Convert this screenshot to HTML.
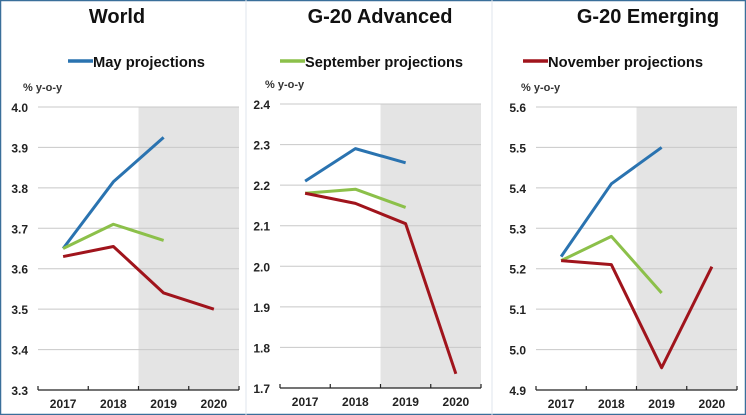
<!DOCTYPE html>
<html><head><meta charset="utf-8"><style>
html,body{margin:0;padding:0;background:#fff}
svg{display:block;font-family:"Liberation Sans",Arial,sans-serif}
</style></head><body>
<svg id="c" width="746" height="415" viewBox="0 0 746 415" xmlns="http://www.w3.org/2000/svg">
<rect x="0.5" y="0.5" width="745" height="414" fill="#fff" stroke="#3a6f9a" stroke-width="1.5"/>
<line x1="246" y1="0" x2="246" y2="415" stroke="#dfe6ec"/>
<line x1="492" y1="0" x2="492" y2="415" stroke="#dfe6ec"/>
</svg>
<script>
const categories = ["2017","2018","2019","2020"];
const panelTitles = ["World","G-20 Advanced","G-20 Emerging"];
const legendLabels = ["May projections","September projections","November projections"];
const yMins = [3.3,1.7,4.9];
const yMaxs = [4.0,2.4,5.6];
const worldMay = [3.65,3.815,3.925,null];
const worldSep = [3.65,3.71,3.67,null];
const worldNov = [3.63,3.655,3.54,3.50];
const advMay = [2.21,2.29,2.255,null];
const advSep = [2.18,2.19,2.145,null];
const advNov = [2.18,2.155,2.105,1.735];
const emMay = [5.23,5.41,5.50,null];
const emSep = [5.22,5.28,5.14,null];
const emNov = [5.22,5.21,4.955,5.205];

const svg=document.getElementById('c');
const NS="http://www.w3.org/2000/svg";
function mk(t,a,p){const e=document.createElementNS(NS,t);for(const k in a)e.setAttribute(k,a[k]);(p||svg).appendChild(e);return e;}
const colors=["#2a73b0","#8cc04a","#a0141c"];
const panels=[
 {l:38,r:239,t:107,b:390,titleX:117,series:[worldMay,worldSep,worldNov],key:"world"},
 {l:280,r:481,t:104,b:388,titleX:380,series:[advMay,advSep,advNov],key:"advanced"},
 {l:536,r:737,t:107,b:390,titleX:648,series:[emMay,emSep,emNov],key:"emerging"}
];
const legendX=[68,280,523];
const legendW=[112,158,155];
panels.forEach((p,i)=>{
 const g=mk('g',{});
 
 
 const yMin=yMins[i],yMax=yMaxs[i];
 const y=v=>p.b-(v-yMin)/(yMax-yMin)*(p.b-p.t);
 const bw=(p.r-p.l)/categories.length;
 const x=k=>p.l+bw*(k+0.5);
 const sh=mk('rect',{x:p.l+bw*2,y:p.t,width:bw*2,height:p.b-p.t,fill:"#e4e4e4"},g);
 
 
 const steps=Math.round((yMax-yMin)/0.1);
 for(let s=0;s<=steps;s++){
  const v=yMin+s*0.1,yy=y(v);
  if(s>0){const gl=mk('line',{x1:p.l,x2:p.r,y1:yy,y2:yy,stroke:"#c8c8c8","stroke-width":1},g);
   
   }
  const tl=mk('text',{x:p.l-10,y:yy+5,"text-anchor":"end","font-size":12,"font-weight":"bold",fill:"#222"},g);
  tl.textContent=v.toFixed(1);
  
  
 }
 const ax=mk('line',{x1:p.l,x2:p.r,y1:p.b,y2:p.b,stroke:"#222","stroke-width":1.2},g);
 
 
 for(let k=0;k<=categories.length;k++){
  mk('line',{x1:p.l+bw*k,x2:p.l+bw*k,y1:p.b-4,y2:p.b,stroke:"#222","stroke-width":1.2},g);
 }
 categories.forEach((c,k)=>{
  const t=mk('text',{x:x(k),y:p.b+18,"text-anchor":"middle","font-size":12,"font-weight":"bold",fill:"#222"},g);
  t.textContent=c;
  
  
 });
 const yl=mk('text',{x:p.l-15,y:p.t-16,"font-size":11,"font-weight":"bold",fill:"#333"},g);
 yl.textContent="% y-o-y";
 
 
 p.series.forEach((arr,si)=>{
  let d="";
  arr.forEach((v,k)=>{if(v!==null)d+=(d?"L":"M")+x(k)+","+y(v);});
  const pl=mk('path',{d:d,fill:"none",stroke:colors[si],"stroke-width":3,"stroke-linejoin":"round"},g);
  
  
 });
 const tt=mk('text',{x:p.titleX,y:23,"text-anchor":"middle","font-size":20,"font-weight":"bold",fill:"#111"},g);
 tt.textContent=panelTitles[i];
 
 
 const lx=legendX[i];
 const ll=mk('line',{x1:lx,x2:lx+25,y1:61,y2:61,stroke:colors[i],"stroke-width":3.5},g);
 
 
 const lt=mk('text',{x:lx+25,y:67,"font-size":15,"font-weight":"bold",fill:"#111",textLength:legendW[i],lengthAdjust:"spacingAndGlyphs"},g);
 lt.textContent=legendLabels[i];
 
 
});
</script>
</body></html>
